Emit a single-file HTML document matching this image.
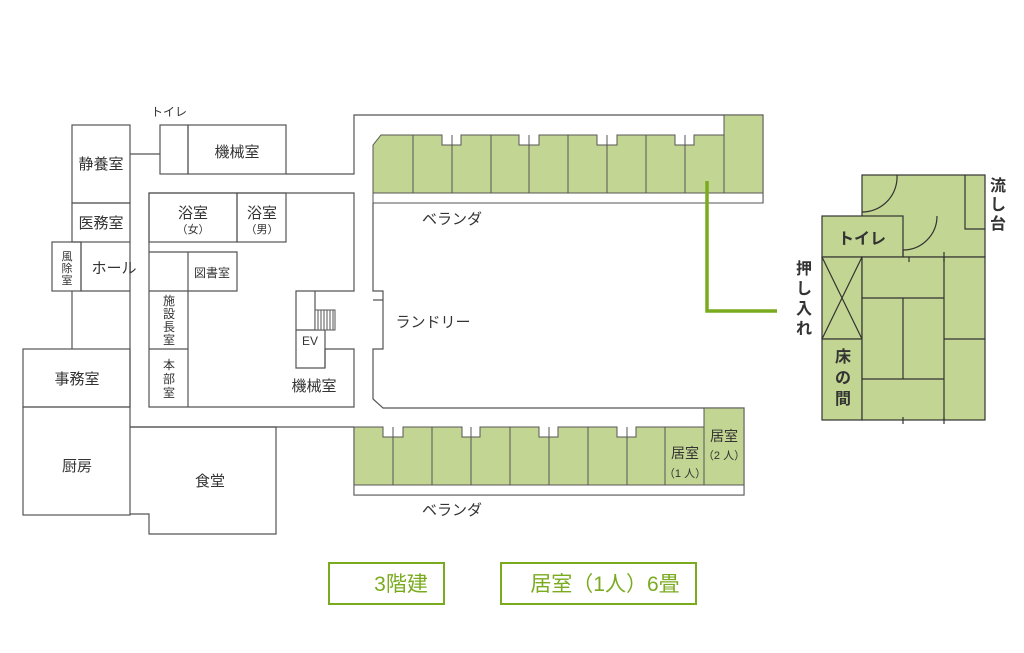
<!DOCTYPE html>
<html><head><meta charset="utf-8"><style>
html,body{margin:0;padding:0;background:#fff;}
svg{display:block;font-family:"Liberation Sans","Noto Sans CJK JP",sans-serif;}
</style></head><body>
<svg width="1024" height="653" viewBox="0 0 1024 653" xmlns="http://www.w3.org/2000/svg">
<g fill="none" stroke="#555" stroke-width="1.2">
<!-- left wing -->
<rect x="72" y="125" width="58" height="78"/>
<rect x="72" y="203" width="58" height="39"/>
<rect x="52" y="242" width="29" height="49"/>
<path d="M81,242 V291 H130 M130,242 V291"/>
<path d="M72,291 V349 M130,291 V407"/>
<rect x="23" y="349" width="107" height="58"/>
<rect x="23" y="407" width="107" height="108"/>
<path d="M130,427 H276 V534 H149 V514 H130"/>
<path d="M130,427 H354"/>
<path d="M130,154 H160"/>
<rect x="160" y="125" width="28" height="49"/>
<rect x="188" y="125" width="98" height="49"/>
<path d="M286,174 H354 V115 H763 V203"/>
<!-- inner block -->
<path d="M149,193 H354 V291 H296 V368 H325 V349 H354 V407 H149 Z"/>
<rect x="149" y="193" width="88" height="49"/>
<rect x="237" y="193" width="49" height="49"/>
<path d="M149,252 H237 V291 H188 M188,252 V407 M149,291 H188 M149,349 H188"/>
<path d="M315,291 V330 M296,330 H325 V368"/>
<!-- right corridor -->
<path d="M373,203 V291 H383 V300 H373 M383,300 V349 H373 V399 L383,408 H744 V495 H354 V427"/>
<path d="M373,193 H763"/>
</g>
<!-- stairs -->
<g stroke="#555" stroke-width="1"><rect x="315" y="310" width="20" height="20" fill="#fff"/>
<path d="M318,310V330M321,310V330M324,310V330M327,310V330M330,310V330M333,310V330"/></g>
<!-- top green rooms -->
<g fill="#c2d592" stroke="#555" stroke-width="1">
<path d="M373,145 V193 H724 V135 H694 V145 H675 V135 H617 V145 H597 V135 H539 V145 H519 V135 H461 V145 H442 V135 H381 Z"/>
<rect x="724" y="115" width="39" height="78"/>
<path d="M413,135V193M452,135V193M491,135V193M529,135V193M568,135V193M607,135V193M646,135V193M685,135V193" fill="none"/>
<rect x="373" y="193" width="390" height="10" fill="#fff"/>
<path d="M354,427 V485 H704 V427 H636 V437 H617 V427 H558 V437 H539 V427 H480 V437 H462 V427 H403 V437 H383 V427 Z"/>
<rect x="704" y="408" width="40" height="77"/>
<path d="M393,427V485M432,427V485M471,427V485M510,427V485M549,427V485M588,427V485M627,427V485M665,427V485" fill="none"/>
<rect x="354" y="485" width="390" height="10" fill="#fff"/>
</g>
<path d="M707,181 V311 H777" fill="none" stroke="#7aab1f" stroke-width="3.5"/>
<!-- unit plan -->
<g fill="#c2d592" stroke="#333" stroke-width="1.2">
<rect x="862" y="175" width="123" height="82"/>
<rect x="822" y="216" width="81" height="41"/>
<rect x="822" y="257" width="40" height="82"/>
<rect x="822" y="339" width="40" height="81"/>
<rect x="862" y="257" width="123" height="163"/>
<path d="M944,257V420M862,298H944M862,379H944M903,298V379M944,339H985M822,257L862,339M862,257L822,339" fill="none"/>
<path d="M965,175V229H985" fill="none"/>
<path d="M862,212 A35,35 0 0 0 897,175" fill="none"/>
<path d="M903,250 A34,34 0 0 0 937,216" fill="none"/>
<path d="M903,250V257M909,257V262M944,252V262M903,417V424M944,417V424" fill="none"/>
</g>
<!-- labels -->
<g fill="#333" font-size="15" text-anchor="middle">
<text x="169" y="116" font-size="12">トイレ</text>
<text x="101" y="169">静養室</text>
<text x="101" y="228">医務室</text>
<text x="237" y="157">機械室</text>
<text x="114" y="273">ホール</text>
<text x="77" y="384">事務室</text>
<text x="77" y="471">厨房</text>
<text x="210" y="486">食堂</text>
<text x="193" y="218">浴室</text><text x="193" y="233" font-size="11">（女）</text>
<text x="262" y="218">浴室</text><text x="262" y="233" font-size="11">（男）</text>
<text x="212" y="277" font-size="12">図書室</text>
<text x="314" y="391">機械室</text>
<text x="310" y="345" font-size="12">EV</text>
<g font-size="11"><text x="67" y="260">風</text><text x="67" y="272">除</text><text x="67" y="284">室</text></g>
<g font-size="12"><text x="169" y="305">施</text><text x="169" y="318">設</text><text x="169" y="331">長</text><text x="169" y="344">室</text>
<text x="169" y="369">本</text><text x="169" y="383">部</text><text x="169" y="397">室</text></g>
<text x="452" y="224">ベランダ</text>
<text x="452" y="515">ベランダ</text>
<text x="433" y="327">ランドリー</text>
<text x="685" y="458" font-size="14">居室</text><text x="685" y="477" font-size="11">（1 人）</text>
<text x="724" y="441" font-size="14">居室</text><text x="724" y="459" font-size="11">（2 人）</text>
<g font-weight="bold" font-size="16"><text x="862" y="244">トイレ</text>
<text x="843" y="362">床</text><text x="843" y="383">の</text><text x="843" y="404">間</text>
<text x="998" y="191">流</text><text x="998" y="210">し</text><text x="998" y="229">台</text>
<text x="804" y="274">押</text><text x="804" y="294">し</text><text x="804" y="314">入</text><text x="804" y="334">れ</text></g>
</g>
<g fill="none" stroke="#7aab1f" stroke-width="2"><rect x="329" y="563" width="115" height="41"/><rect x="501" y="563" width="195" height="41"/></g>
<g fill="#7aab1f" font-size="21" text-anchor="middle"><text x="401" y="591">3階建</text><text x="605" y="591">居室（1人）6畳</text></g>
</svg>
</body></html>
